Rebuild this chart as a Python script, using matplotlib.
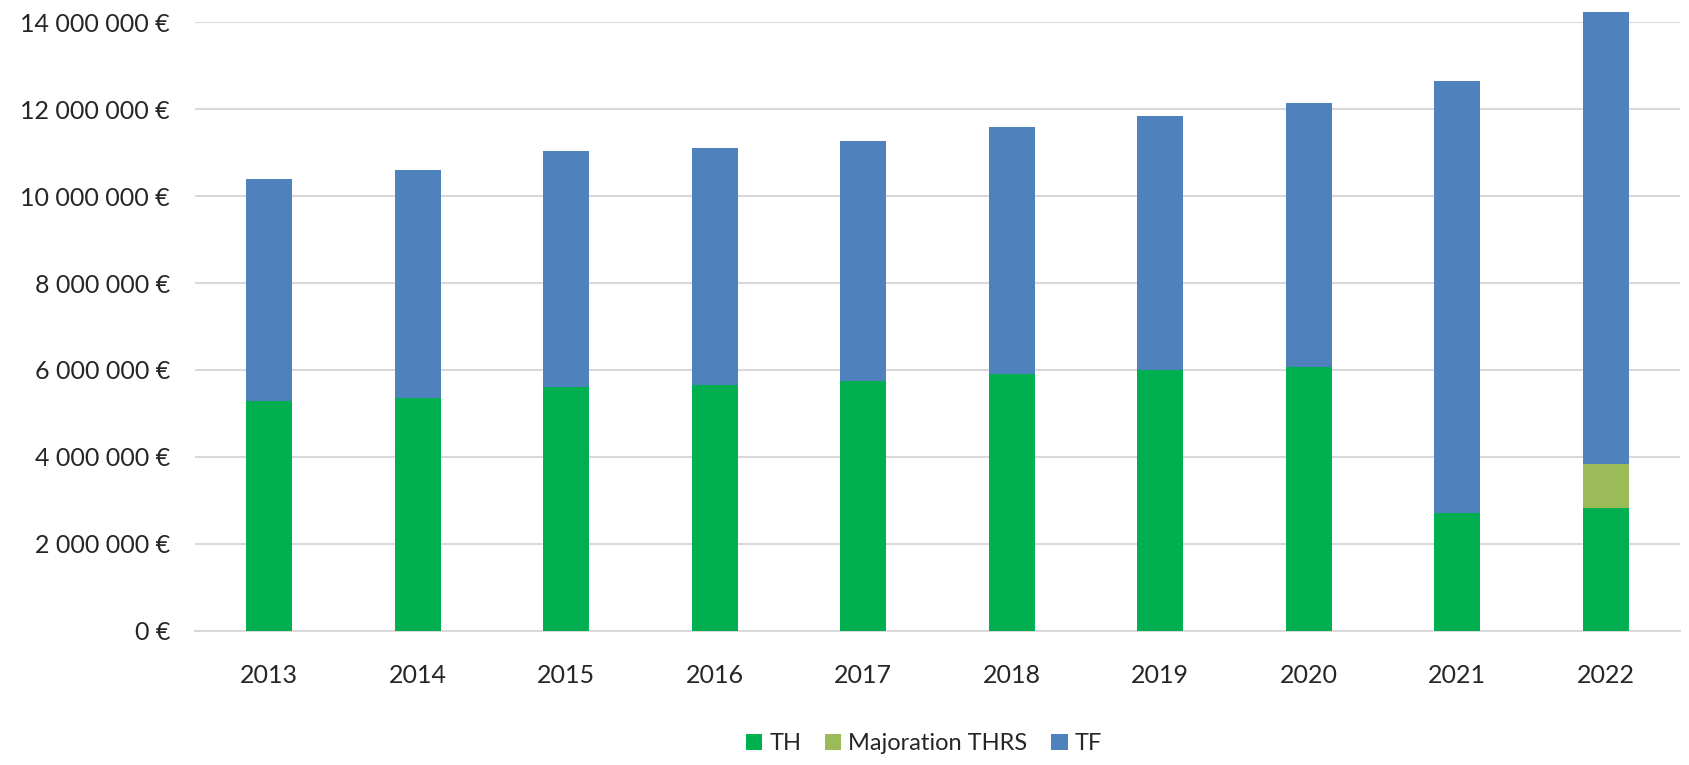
import matplotlib.pyplot as plt
from matplotlib.ticker import FuncFormatter
import numpy as np

plt.rcParams['font.family'] = ['Lato', 'DejaVu Sans']

# données (en euros)
years = ["2013", "2014", "2015", "2016", "2017", "2018", "2019", "2020", "2021", "2022"]
th = [5290000, 5360000, 5600000, 5650000, 5740000, 5900000, 5990000, 6060000, 2720000, 2820000]
majoration_thrs = [0, 0, 0, 0, 0, 0, 0, 0, 0, 1030000]
total = [10380000, 10600000, 11040000, 11110000, 11270000, 11590000, 11850000, 12130000, 12640000, 14230000]
tf = [t - a - b for t, a, b in zip(total, th, majoration_thrs)]

col_th = "#00B050"
col_maj = "#9BBB59"
col_tf = "#4F81BD"

fig = plt.figure(figsize=(16.89, 7.65), dpi=100)
ax = fig.add_axes([0.1155, 0.1752, 0.8792, 0.796])

x = np.arange(len(years))
w = 0.31
ax.bar(x, th, w, color=col_th, label="TH", zorder=3, clip_on=False)
ax.bar(x, majoration_thrs, w, bottom=th, color=col_maj, label="Majoration THRS", zorder=3, clip_on=False)
bottom_tf = [a + b for a, b in zip(th, majoration_thrs)]
ax.bar(x, tf, w, bottom=bottom_tf, color=col_tf, label="TF", zorder=3, clip_on=False)

ax.set_xlim(-0.5, len(years) - 0.5)
ax.set_ylim(0, 14000000)
ax.set_yticks(np.arange(0, 14000001, 2000000))
ax.yaxis.set_major_formatter(FuncFormatter(lambda v, p: f"{int(v):,}".replace(",", " ") + " €"))
ax.set_xticks(x)
ax.set_xticklabels(years)

ax.grid(axis="y", color="#d9d9d9", linewidth=1.5, zorder=0)
for s in ["top", "right", "left"]:
    ax.spines[s].set_visible(False)
ax.spines["bottom"].set_color("#d9d9d9")
ax.spines["bottom"].set_linewidth(1.5)
ax.tick_params(axis="both", length=0, labelsize=18, labelcolor="#262626")
ax.tick_params(axis="y", pad=18)
ax.tick_params(axis="x", pad=24)

ax.legend(loc="center", bbox_to_anchor=(0.547, 0.028), bbox_transform=fig.transFigure,
          ncol=3, frameon=False, fontsize=17, handlelength=0.7, handleheight=0.7,
          handletextpad=0.3, columnspacing=1.0, labelcolor="#262626")

plt.savefig("out.png", dpi=100)
